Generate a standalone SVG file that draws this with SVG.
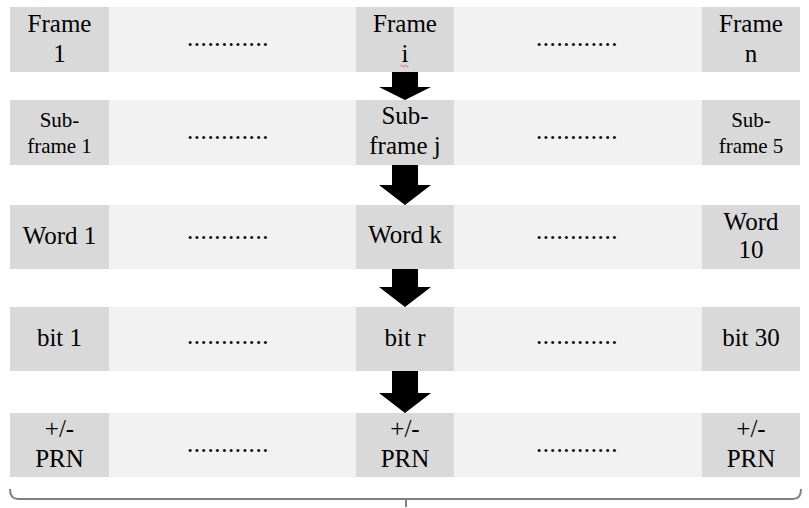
<svg xmlns="http://www.w3.org/2000/svg" width="809" height="508" viewBox="0 0 809 508">
<defs>
<style>
.strip{fill:#f2f2f2}
.cell{fill:#d9d9d9}
text{font-family:'Liberation Serif',Tinos,'Times New Roman','DejaVu Serif',serif;fill:#000;text-anchor:middle}
.t{font-size:25px}
.s{font-size:21px}
.dots{font-size:25px;letter-spacing:0.6px}
.arrow{fill:#000}
.brace{fill:none;stroke:#808080;stroke-width:2}
</style>
</defs>
<rect x="0" y="0" width="809" height="508" fill="#fff"/>
<g id="strips">
<rect class="strip" x="10" y="7" width="790" height="65"/>
<rect class="strip" x="10" y="100" width="790" height="65"/>
<rect class="strip" x="10" y="205" width="790" height="64"/>
<rect class="strip" x="10" y="307" width="790" height="64"/>
<rect class="strip" x="10" y="413" width="790" height="64"/>
</g>
<g font-family="Liberation Serif, Tinos, DejaVu Serif, serif">
<g id="frame1"><rect class="cell" x="10" y="7" width="99" height="65"/><text class="t" x="59.5" y="32">Frame</text><text class="t" x="59.5" y="62">1</text></g>
<g id="dots1a"><text class="dots" x="228" y="46">............</text></g>
<g id="framei"><rect class="cell" x="356" y="7" width="98" height="65"/><text class="t" x="405" y="32">Frame</text><text class="t" x="405" y="62">i</text><path d="M400.5,66 q1,-1.6 2,0 t2,0 t2,0 t2,0" fill="none" stroke="#e04040" stroke-width="0.8"/></g>
<g id="dots1b"><text class="dots" x="577" y="46">............</text></g>
<g id="framen"><rect class="cell" x="702" y="7" width="98" height="65"/><text class="t" x="751" y="32">Frame</text><text class="t" x="751" y="62">n</text></g>

<g id="sub1"><rect class="cell" x="10" y="100" width="99" height="65"/><text class="s" x="59.5" y="127">Sub-</text><text class="s" x="59.5" y="153">frame 1</text></g>
<g id="dots2a"><text class="dots" x="228" y="139">............</text></g>
<g id="subj"><rect class="cell" x="356" y="100" width="98" height="65"/><text class="t" x="405" y="124">Sub-</text><text class="t" x="405" y="154">frame j</text></g>
<g id="dots2b"><text class="dots" x="577" y="139">............</text></g>
<g id="sub5"><rect class="cell" x="702" y="100" width="98" height="65"/><text class="s" x="751" y="127">Sub-</text><text class="s" x="751" y="153">frame 5</text></g>

<g id="word1"><rect class="cell" x="10" y="205" width="99" height="64"/><text class="t" x="59.5" y="244">Word 1</text></g>
<g id="dots3a"><text class="dots" x="228" y="239">............</text></g>
<g id="wordk"><rect class="cell" x="356" y="205" width="98" height="64"/><text class="t" x="405" y="243">Word k</text></g>
<g id="dots3b"><text class="dots" x="577" y="239">............</text></g>
<g id="word10"><rect class="cell" x="702" y="205" width="98" height="64"/><text class="t" x="751" y="230">Word</text><text class="t" x="751" y="258">10</text></g>

<g id="bit1"><rect class="cell" x="10" y="307" width="99" height="64"/><text class="t" x="59.5" y="346">bit 1</text></g>
<g id="dots4a"><text class="dots" x="228" y="344">............</text></g>
<g id="bitr"><rect class="cell" x="356" y="307" width="98" height="64"/><text class="t" x="405" y="346">bit r</text></g>
<g id="dots4b"><text class="dots" x="577" y="344">............</text></g>
<g id="bit30"><rect class="cell" x="702" y="307" width="98" height="64"/><text class="t" x="751" y="346">bit 30</text></g>

<g id="prn1"><rect class="cell" x="10" y="413" width="99" height="64"/><text class="t" x="59.5" y="437">+/-</text><text class="t" x="59.5" y="467">PRN</text></g>
<g id="dots5a"><text class="dots" x="228" y="452">............</text></g>
<g id="prnr"><rect class="cell" x="356" y="413" width="98" height="64"/><text class="t" x="405" y="437">+/-</text><text class="t" x="405" y="467">PRN</text></g>
<g id="dots5b"><text class="dots" x="577" y="452">............</text></g>
<g id="prnn"><rect class="cell" x="702" y="413" width="98" height="64"/><text class="t" x="751" y="437">+/-</text><text class="t" x="751" y="467">PRN</text></g>
</g>
<g id="connectors">
<polygon class="arrow" points="392,72 418,72 418,87 431,87 405,100 379,87 392,87"/>
<polygon class="arrow" points="392,165 418,165 418,185 431,185 405,205 379,185 392,185"/>
<polygon class="arrow" points="392,269 418,269 418,287 431,287 405,307 379,287 392,287"/>
<polygon class="arrow" points="392,371 418,371 418,393 431,393 405,413 379,393 392,393"/>
</g>
<g id="brace">
<path class="brace" d="M10,489 Q10,499 18,499 L793,499 Q801,499 801,489"/>
<path class="brace" d="M406,499 L406,507"/>
</g>
</svg>
